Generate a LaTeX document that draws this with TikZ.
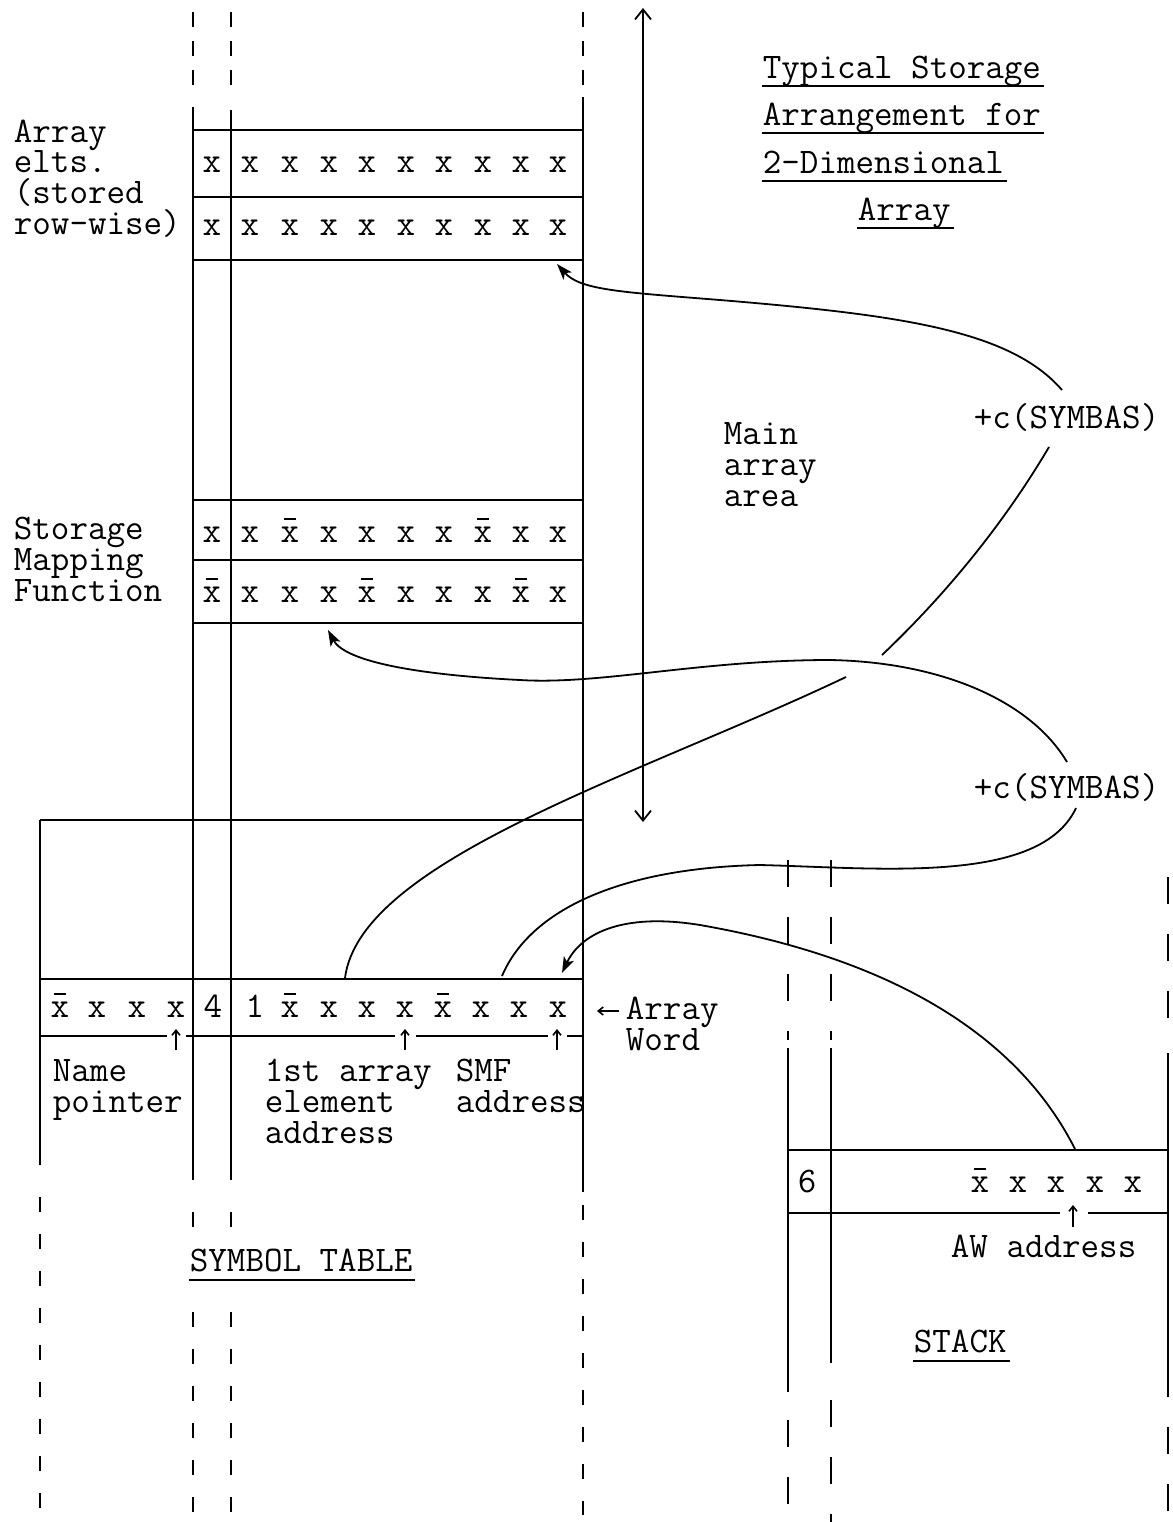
\documentclass[tikz,border=0pt]{standalone}
\usetikzlibrary{arrows.meta,calc}
\newcommand\xbr{\rlap{\kern0.1em\raisebox{0.62em}{\rule{0.33em}{0.06em}}}x}
\begin{document}
\begin{tikzpicture}[x=0.5pt,y=-0.5pt,line width=0.9pt,
  txt/.style={font={\ttfamily\fontsize{18}{15.3}\selectfont},inner sep=0pt,anchor=base west},
  mtxt/.style={txt,align=left},
  cell/.style={txt,anchor=base},
  dtop/.style={dash pattern=on 7.5pt off 7pt},
  dbot/.style={dash pattern=on 7.5pt off 11pt},
  dstk/.style={dash pattern=on 13.5pt off 15pt},
  ul/.style={line width=1.4pt},
  conn/.style={line width=0.9pt},
  arr/.style={conn,-{Stealth[length=8pt,width=5.5pt,inset=2pt]}},
  tick/.style={line width=0.8pt,-{Straight Barb[length=2.5pt,width=4pt]}}]
\useasboundingbox (0,0) rectangle (1173,1522);

% ---------- symbol table / main array columns ----------
\draw[dtop] (193,12) -- (193,97);
\draw[dtop] (231,12) -- (231,97);
\draw[dtop] (583,12) -- (583,92);
\draw (193,107) -- (193,1180);
\draw (231,110) -- (231,1180);
\draw (583,97) -- (583,1192);
\draw (40,820) -- (40,1165);
\draw[dbot] (40,1197) -- (40,1515);
\draw[dbot] (193,1212) -- (193,1236);
\draw[dbot] (231,1212) -- (231,1236);
\draw[dbot] (193,1312) -- (193,1515);
\draw[dbot] (231,1312) -- (231,1515);
\draw[dbot] (583,1205) -- (583,1515);

\foreach \yy in {130,197,260,500,560,623} \draw (193,\yy) -- (583,\yy);
\draw (40,820) -- (583,820);
\draw (40,979) -- (583,979);
\draw (40,1036) -- (167,1036);
\draw (186,1036) -- (395,1036);
\draw (416,1036) -- (548,1036);
\draw (567,1036) -- (583,1036);
\coordinate (t1a) at (176,1050); \coordinate (t1b) at (176,1029);
\coordinate (t2a) at (405,1050); \coordinate (t2b) at (405,1029);
\coordinate (t3a) at (557,1050); \coordinate (t3b) at (557,1029);
\draw[tick] (t1a) -- (t1b);
\draw[tick] (t2a) -- (t2b);
\draw[tick] (t3a) -- (t3b);

% ---------- array rows ----------
\foreach \xx [count=\i] in {212,250,290,329,367,406,444,483,521,558} {
  \node[cell] (ra\i) at (\xx,172) {x};
  \node[cell] (rb\i) at (\xx,235) {x};
}
\foreach \xx/\t [count=\i] in {212/x,250/x,290/\xbr,329/x,367/x,406/x,444/x,483/\xbr,521/x,558/x}
  \node[cell] (sa\i) at (\xx,542) {\t};
\foreach \xx/\t [count=\i] in {212/\xbr,250/x,290/x,329/x,367/\xbr,406/x,444/x,483/x,521/\xbr,558/x}
  \node[cell] (sb\i) at (\xx,602) {\t};
\foreach \xx/\t [count=\i] in {60/\xbr,97/x,137/x,176/x,213/4,255/1,290/\xbr,329/x,367/x,405/x,443/\xbr,481/x,519/x,558/x}
  \node[cell] (aw\i) at (\xx,1017) {\t};

% ---------- labels (multi-line nodes anchored at the last baseline) ----------
\node[mtxt] (ae) at (13,234) {Array\\elts.\\(stored\\row-wise)};
\node[mtxt] (sm) at (13,601) {Storage\\Mapping\\Function};
\node[mtxt] (ma) at (723,506) {Main\\array\\area};
\node[txt] (sy1) at (973,428) {+c(SYMBAS)};
\node[txt] (sy2) at (973,798) {+c(SYMBAS)};

\node[txt] (ti1) at (762,78) {Typical Storage};
\node[txt] (ti2) at (762,125) {Arrangement for};
\node[txt] (ti3) at (762,173) {2-Dimensional};
\node[txt] (ti4) at (857,220) {Array};
\foreach \n in {ti1,ti2,ti3,ti4}
  \draw[ul] ($(\n.base west)+(0,8)$) -- ($(\n.base east)+(2,8)$);

\node[mtxt] (aw) at (625,1050) {Array\\Word};
\coordinate (awl) at (597,1011);
\draw[line width=0.8pt,-{Straight Barb[length=2.5pt,width=4pt]}] (619,1011) -- (awl);
\node[mtxt] (np) at (52,1112) {Name\\pointer};
\node[mtxt] (fa) at (264,1143) {1st array\\element\\address};
\node[mtxt] (sml) at (455,1112) {SMF\\address};
\node[txt] (st) at (189,1271) {SYMBOL TABLE};
\draw[ul] ($(st.base west)+(0,9)$) -- ($(st.base east)+(2,9)$);

% ---------- main array area arrow ----------
\coordinate (mtop) at (643,8);
\coordinate (mbot) at (643,822);
\draw[{Straight Barb[length=5pt,width=8pt]}-{Straight Barb[length=5pt,width=8pt]}] (mtop) -- (mbot);

% ---------- stack ----------
\draw[dstk] (788,860) -- (788,1040);
\draw[dstk] (831,860) -- (831,1040);
\draw[dstk] (1168,877) -- (1168,1040);
\draw (788,1048) -- (788,1392);
\draw (831,1048) -- (831,1363);
\draw (1168,1053) -- (1168,1397);
\draw[dstk] (788,1420) -- (788,1515);
\draw[dstk] (831,1400) -- (831,1522);
\draw[dstk] (1168,1427) -- (1168,1522);
\draw (788,1150) -- (1168,1150);
\draw (788,1213) -- (1060,1213);
\draw (1088,1213) -- (1168,1213);
\coordinate (t4a) at (1073,1227); \coordinate (t4b) at (1073,1205);
\draw[tick] (t4a) -- (t4b);
\node[cell] (s6) at (807,1192) {6};
\foreach \xx/\t [count=\i] in {980/\xbr,1018/x,1056/x,1095/x,1133/x}
  \node[cell] (sk\i) at (\xx,1192) {\t};
\node[txt] (awa) at (950,1257) {AW address};
\node[txt] (stk) at (913,1352) {STACK};
\draw[ul] ($(stk.base west)+(0,9)$) -- ($(stk.base east)+(2,9)$);

% ---------- connectors ----------
\coordinate (a0) at (1062,390);
\coordinate (a1) at (557,264);
\draw[arr] (a0) .. controls (1010,330) and (900,315) .. (720,300)
           .. controls (620,292) and (580,290) .. (a1);
\coordinate (b0) at (1049,447);
\coordinate (b1) at (882,655);
\draw[conn] (b0) .. controls (1000,530) and (940,600) .. (b1);
\coordinate (b2) at (846,677);
\coordinate (b3) at (345,978);
\draw[conn] (b2) .. controls (640,775) and (360,860) .. (b3);
\coordinate (c0) at (1067,762);
\coordinate (c1) at (328,630);
\draw[arr] (c0) .. controls (1030,700) and (940,662) .. (830,660)
           .. controls (700,660) and (600,685) .. (520,680)
           .. controls (420,675) and (345,662) .. (c1);
\coordinate (d0) at (502,976);
\coordinate (d1) at (1076,808);
\draw[conn] (d0) .. controls (530,910) and (620,868) .. (760,865)
            .. controls (880,868) and (1040,885) .. (d1);
\coordinate (e0) at (1075,1149);
\coordinate (e1) at (562,973);
\draw[arr] (e0) .. controls (1020,1040) and (900,960) .. (700,925)
           .. controls (620,912) and (580,935) .. (e1);
\end{tikzpicture}
\end{document}
